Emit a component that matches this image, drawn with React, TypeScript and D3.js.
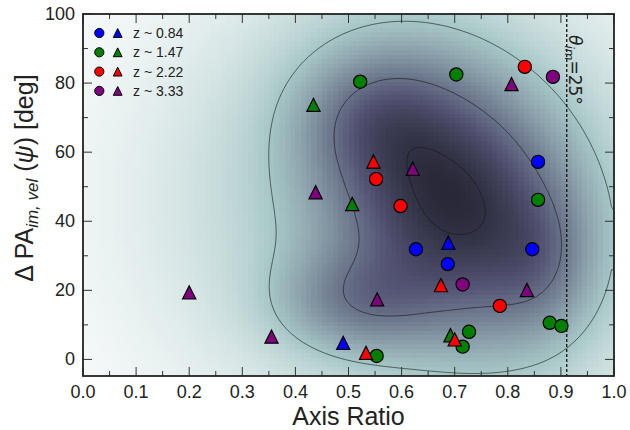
import React, { useMemo } from 'react';
import * as d3 from 'd3';

// ---- data (axis ratio, ΔPA in deg) ----
const legendLabels = ['z ~ 0.84', 'z ~ 1.47', 'z ~ 2.22', 'z ~ 3.33'];
const groupColors = ['#0000ff', '#008000', '#ff0000', '#800080'];

const blueCircles: [number, number][] = [[0.627, 31.9], [0.687, 27.6], [0.846, 31.9], [0.857, 57.2]];
const blueTriangles: [number, number][] = [[0.688, 33.8], [0.49, 4.8]];
const greenCircles: [number, number][] = [[0.522, 80.4], [0.703, 82.5], [0.857, 46.2], [0.879, 10.6], [0.901, 9.7], [0.727, 8.0], [0.715, 3.7], [0.553, 1.0]];
const greenTriangles: [number, number][] = [[0.434, 73.7], [0.507, 45.0], [0.692, 7.0]];
const redCircles: [number, number][] = [[0.552, 52.2], [0.598, 44.4], [0.785, 15.5], [0.832, 84.7]];
const redTriangles: [number, number][] = [[0.547, 57.3], [0.674, 21.5], [0.7, 5.8], [0.533, 1.9]];
const purpleCircles: [number, number][] = [[0.715, 21.7], [0.885, 81.8]];
const purpleTriangles: [number, number][] = [[0.621, 55.2], [0.438, 48.4], [0.2, 19.4], [0.554, 17.4], [0.355, 6.6], [0.836, 20.1], [0.807, 79.7]];

const circleSeries = [blueCircles, greenCircles, redCircles, purpleCircles];
const triangleSeries = [blueTriangles, greenTriangles, redTriangles, purpleTriangles];

// background density (parent-sample KDE), estimated as Gaussian components:
// [centre axis ratio, centre ΔPA, sigma x, sigma y, correlation, weight]
const densityComponents: number[][] = [
  [0.7, 46, 0.15, 25, -0.25, 1.0],
  [0.55, 70, 0.09, 12, 0, 0.3],
  [0.52, 17, 0.1, 10, 0, 0.4],
  [0.86, 28, 0.06, 13, 0, 0.2],
  [0.62, 46, 0.28, 40, 0, 0.3],
];
const contourFractions = [0.2, 0.55, 0.935];

const xTicks = [0, 0.1, 0.2, 0.3, 0.4, 0.5, 0.6, 0.7, 0.8, 0.9, 1.0];
const xMinor = [0.05, 0.15, 0.25, 0.35, 0.45, 0.55, 0.65, 0.75, 0.85, 0.95];
const yTicks = [0, 20, 40, 60, 80, 100];
const yMinor = [10, 30, 50, 70, 90];
const thetaLine = 0.911;

// ---- layout ----
const W = 630, H = 430;
const L = 83, R = 614, T = 14, B = 376;
const xDomain: [number, number] = [0, 1];
const yDomain: [number, number] = [-4.8, 100];

const NX = 100, NY = 80;

function interp(stops: number[][], t: number) {
  for (let i = 1; i < stops.length; i++) {
    if (t <= stops[i][0]) {
      const [t0, v0] = stops[i - 1];
      const [t1, v1] = stops[i];
      return v0 + ((t - t0) / (t1 - t0)) * (v1 - v0);
    }
  }
  return stops[stops.length - 1][1];
}
const boneR = [[0, 0], [0.746032, 0.652778], [1, 1]];
const boneG = [[0, 0], [0.365079, 0.319444], [0.746032, 0.777778], [1, 1]];
const boneB = [[0, 0], [0.365079, 0.444444], [1, 1]];
function bone_r(t: number) {
  const u = Math.max(0, Math.min(1, 1 - t));
  const r = Math.round(interp(boneR, u) * 255);
  const g = Math.round(interp(boneG, u) * 255);
  const b = Math.round(interp(boneB, u) * 255);
  return `rgb(${r},${g},${b})`;
}

function densityAt(xx: number, yy: number) {
  let s = 0;
  for (const [cx, cy, sx, sy, rho, w] of densityComponents) {
    const zx = (xx - cx) / sx, zy = (yy - cy) / sy;
    const q = (zx * zx - 2 * rho * zx * zy + zy * zy) / (1 - rho * rho);
    s += w * Math.exp(-0.5 * q);
  }
  return s;
}

export default function App() {
  const x = d3.scaleLinear().domain(xDomain).range([L, R]);
  const y = d3.scaleLinear().domain(yDomain).range([B, T]);

  const { cells, contours } = useMemo(() => {
    const vals: number[] = new Array(NX * NY);
    const dx = (xDomain[1] - xDomain[0]) / NX;
    const dy = (yDomain[1] - yDomain[0]) / NY;
    for (let j = 0; j < NY; j++) {
      const yy = yDomain[1] - (j + 0.5) * dy;
      for (let i = 0; i < NX; i++) {
        const xx = xDomain[0] + (i + 0.5) * dx;
        vals[j * NX + i] = densityAt(xx, yy);
      }
    }
    const vmax = d3.max(vals)!;
    const cellsOut: { x0: number; y0: number; x1: number; y1: number; fill: string }[] = [];
    for (let j = 0; j < NY; j++) {
      for (let i = 0; i < NX; i++) {
        const f = vals[j * NX + i] / vmax;
        cellsOut.push({
          x0: xDomain[0] + i * dx,
          x1: xDomain[0] + (i + 1) * dx,
          y0: yDomain[1] - j * dy,
          y1: yDomain[1] - (j + 1) * dy,
          fill: bone_r(0.82 * Math.pow(f, 0.72)),
        });
      }
    }
    const gen = d3.contours().size([NX, NY]).thresholds(contourFractions.map((fr) => fr * vmax));
    const cs = gen(vals);
    return { cells: cellsOut, contours: cs };
  }, []);

  const proj = d3.geoTransform({
    point(this: any, cx: number, cy: number) {
      const xv = xDomain[0] + (cx / NX) * (xDomain[1] - xDomain[0]);
      const yv = yDomain[1] - (cy / NY) * (yDomain[1] - yDomain[0]);
      this.stream.point(x(xv), y(yv));
    },
  });
  const path = d3.geoPath(proj);

  const tri = (cx: number, cy: number, s: number) =>
    `M${cx},${cy - s}L${cx + s},${cy + s}L${cx - s},${cy + s}Z`;

  const font = 'Liberation Sans, Arial, sans-serif';

  return (
    <svg width={W} height={H} style={{ position: 'absolute', left: 0, top: 0, background: '#fff' }}>
      <defs>
        <clipPath id="plotclip">
          <rect x={L} y={T} width={R - L} height={B - T} />
        </clipPath>
      </defs>
      <g clipPath="url(#plotclip)">
        <g shapeRendering="crispEdges">
          {cells.map((c, k) => (
            <rect key={k} x={x(c.x0)} y={y(c.y0)} width={x(c.x1) - x(c.x0)} height={y(c.y1) - y(c.y0)} fill={c.fill} />
          ))}
        </g>
        {contours.map((c, k) => (
          <path key={k} d={path(c as any) || ''} fill="none" stroke="#151515" strokeWidth={0.8} strokeOpacity={0.75} />
        ))}
        <line x1={x(thetaLine)} x2={x(thetaLine)} y1={T} y2={B} stroke="#111" strokeWidth={1.3} strokeDasharray="3,2" />
      </g>

      {/* ticks */}
      <g stroke="#333" strokeWidth={1}>
        {xTicks.map((t) => (
          <g key={'xt' + t}>
            <line x1={x(t)} x2={x(t)} y1={B} y2={B - 9} />
            <line x1={x(t)} x2={x(t)} y1={T} y2={T + 9} />
          </g>
        ))}
        {xMinor.map((t) => (
          <g key={'xm' + t}>
            <line x1={x(t)} x2={x(t)} y1={B} y2={B - 5} />
            <line x1={x(t)} x2={x(t)} y1={T} y2={T + 5} />
          </g>
        ))}
        {yTicks.map((t) => (
          <g key={'yt' + t}>
            <line x1={L} x2={L + 9} y1={y(t)} y2={y(t)} />
            <line x1={R} x2={R - 9} y1={y(t)} y2={y(t)} />
          </g>
        ))}
        {yMinor.map((t) => (
          <g key={'ym' + t}>
            <line x1={L} x2={L + 5} y1={y(t)} y2={y(t)} />
            <line x1={R} x2={R - 5} y1={y(t)} y2={y(t)} />
          </g>
        ))}
      </g>

      {/* data markers */}
      {circleSeries.map((s, gi) =>
        s.map((p, k) => (
          <circle key={'c' + gi + '-' + k} cx={x(p[0])} cy={y(p[1])} r={6.6} fill={groupColors[gi]} stroke="#000" strokeWidth={1.2} />
        ))
      )}
      {triangleSeries.map((s, gi) =>
        s.map((p, k) => (
          <path key={'t' + gi + '-' + k} d={tri(x(p[0]), y(p[1]), 6.6)} fill={groupColors[gi]} stroke="#000" strokeWidth={1.2} strokeLinejoin="miter" />
        ))
      )}

      {/* frame */}
      <rect x={L} y={T} width={R - L} height={B - T} fill="none" stroke="#222" strokeWidth={1.8} />

      {/* tick labels */}
      <g fontFamily={font} fontSize={18} fill="#222">
        {xTicks.map((t) => (
          <text key={'xl' + t} x={x(t)} y={398} textAnchor="middle">{t.toFixed(1)}</text>
        ))}
        {yTicks.map((t) => (
          <text key={'yl' + t} x={75} y={y(t)} textAnchor="end" dominantBaseline="central">{t}</text>
        ))}
      </g>

      {/* axis labels */}
      <text x={(L + R) / 2} y={425} textAnchor="middle" fontFamily={font} fontSize={25} fill="#222">Axis Ratio</text>
      <text transform="translate(33,178) rotate(-90)" textAnchor="middle" fontFamily={font} fontSize={25} fill="#222">
        <tspan>Δ PA</tspan>
        <tspan fontSize={17} fontStyle="italic" dy={5}>im, vel</tspan>
        <tspan dy={-5}> (</tspan>
        <tspan fontStyle="italic">ψ</tspan>
        <tspan>) [deg]</tspan>
      </text>

      {/* legend */}
      <g fontFamily={font} fontSize={14} fill="#222">
        {legendLabels.map((lab, i) => {
          const ly = 33 + i * 19.3;
          return (
            <g key={lab}>
              <circle cx={99.3} cy={ly} r={4.6} fill={groupColors[i]} stroke="#000" strokeWidth={1} />
              <path d={tri(117.7, ly, 4.4)} fill={groupColors[i]} stroke="#000" strokeWidth={1} />
              <text x={133} y={ly} dominantBaseline="central">{lab}</text>
            </g>
          );
        })}
      </g>

      {/* theta annotation */}
      <text transform={`translate(${x(thetaLine) + 2},35) rotate(90)`} fontFamily="DejaVu Sans, sans-serif" fontSize={17} fill="#222">
        <tspan fontStyle="italic">θ</tspan>
        <tspan fontStyle="italic" fontSize={12} dy={4}>im</tspan>
        <tspan dy={-4}>=25°</tspan>
      </text>
    </svg>
  );
}
